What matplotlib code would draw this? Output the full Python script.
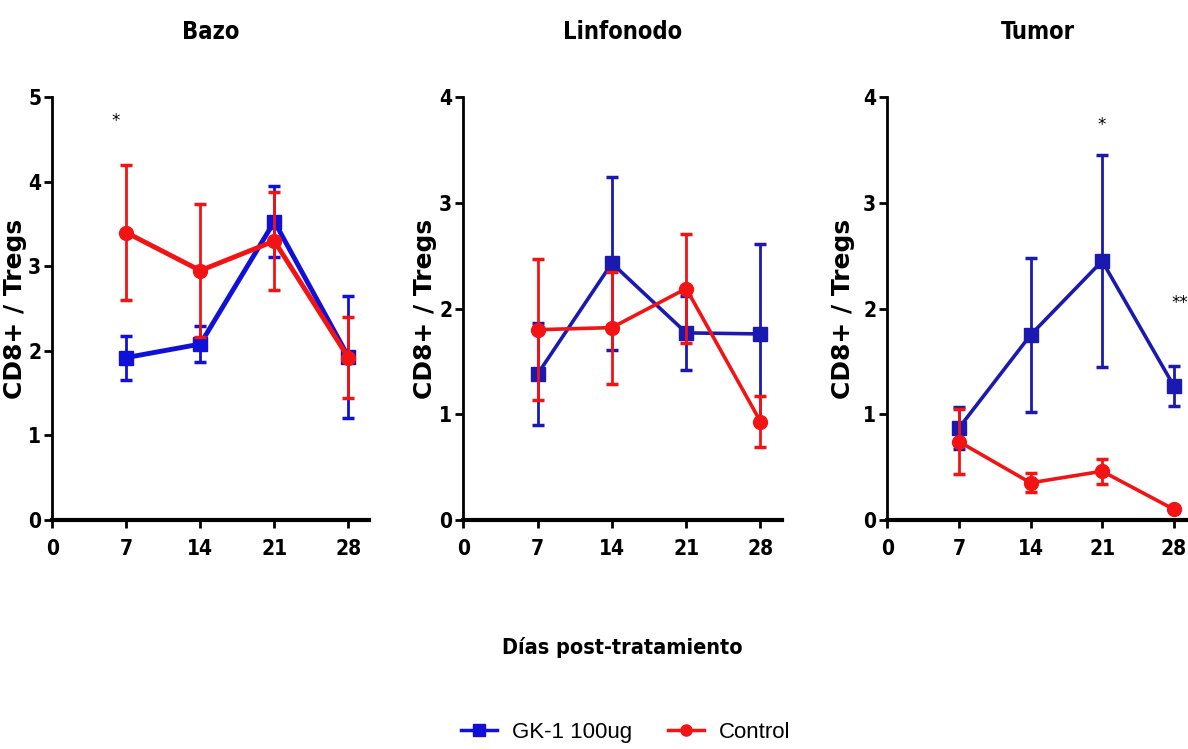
import matplotlib
matplotlib.use("Agg")
import matplotlib.pyplot as plt
from matplotlib.lines import Line2D

days = [7, 14, 21, 28]
panels = ["Bazo", "Linfonodo", "Tumor"]

# GK-1 100ug (media, error)
gk_bazo = [1.92, 2.08, 3.53, 1.93]
gk_bazo_err = [0.26, 0.21, 0.42, 0.72]
gk_linf = [1.38, 2.43, 1.77, 1.76]
gk_linf_err = [0.48, 0.82, 0.35, 0.85]
gk_tumor = [0.87, 1.75, 2.45, 1.27]
gk_tumor_err = [0.20, 0.73, 1.00, 0.19]

# Control (media, error)
ctl_bazo = [3.40, 2.95, 3.30, 1.92]
ctl_bazo_err = [0.80, 0.79, 0.58, 0.48]
ctl_linf = [1.80, 1.82, 2.19, 0.93]
ctl_linf_err = [0.67, 0.53, 0.52, 0.24]
ctl_tumor = [0.74, 0.35, 0.46, 0.10]
ctl_tumor_err = [0.31, 0.09, 0.12, 0.03]

ymax = [5, 4, 4]
xmax = [30, 30, 29.4]
stars = [[(6, 4.72, "*")], [], [(21, 3.74, "*"), (28.6, 2.05, "**")]]

gk = [(gk_bazo, gk_bazo_err), (gk_linf, gk_linf_err), (gk_tumor, gk_tumor_err)]
ctl = [(ctl_bazo, ctl_bazo_err), (ctl_linf, ctl_linf_err), (ctl_tumor, ctl_tumor_err)]

BLUES = ["#1010d8", "#1a1ab0", "#1a1ab0"]
RED = "#f21414"
NARROW = dict(family="DejaVu Sans", stretch="condensed", fontweight="bold")

fig = plt.figure(figsize=(11.88, 7.49), dpi=100)
lefts = [0.044, 0.390, 0.747]
widths = [0.267, 0.268, 0.253]
label_x = [-0.079, -0.082, -0.107]
lw = [3.5, 2.6, 2.6]

for i, name in enumerate(panels):
    ax = fig.add_axes([lefts[i], 0.306, widths[i], 0.564])
    y, e = gk[i]
    ax.errorbar(days, y, yerr=e, color=BLUES[i], lw=lw[i], marker="s", ms=10,
                elinewidth=2, capsize=4, capthick=2.5, zorder=3)
    y, e = ctl[i]
    ax.errorbar(days, y, yerr=e, color=RED, lw=lw[i], marker="o", ms=10,
                elinewidth=2, capsize=4, capthick=2.5, zorder=4)
    ax.set_xlim(0, xmax[i])
    ax.set_ylim(0, ymax[i])
    ax.set_xticks([0] + days)
    ax.set_yticks(range(ymax[i] + 1))
    ax.spines["top"].set_visible(False)
    ax.spines["right"].set_visible(False)
    ax.spines["left"].set_linewidth(2)
    ax.spines["bottom"].set_linewidth(3)
    ax.tick_params(width=2, length=6)
    for lab in ax.get_xticklabels() + ax.get_yticklabels():
        lab.set_family("DejaVu Sans")
        lab.set_stretch("condensed")
        lab.set_fontweight("bold")
        lab.set_fontsize(15)
    ax.tick_params(axis="x", pad=8)
    ax.tick_params(axis="y", pad=2)
    ax.set_title(name, fontsize=17, pad=42, **NARROW)
    ax.set_ylabel("CD8+ / Tregs", family="DejaVu Sans", fontweight="bold", fontsize=18)
    ax.yaxis.set_label_coords(label_x[i], 0.5)
    ax.patch.set_alpha(0)
    for sx, sy, s in stars[i]:
        ax.text(sx, sy, s, ha="center", va="center", fontsize=12)

fig.text(0.524, 0.135, "Días post-tratamiento", fontsize=15.5, ha="center", va="center", **NARROW)

handles = [Line2D([], [], color=BLUES[0], marker="s", lw=2.5, ms=8),
           Line2D([], [], color=RED, marker="o", lw=2.5, ms=8)]
fig.legend(handles, ["GK-1 100ug", "Control"], loc="center", ncol=2,
           bbox_to_anchor=(0.527, 0.022), frameon=False,
           handlelength=1.6, columnspacing=1.6, handletextpad=0.7,
           prop={"family": "Liberation Sans", "size": 16})

fig.savefig("out.png", dpi=100)
